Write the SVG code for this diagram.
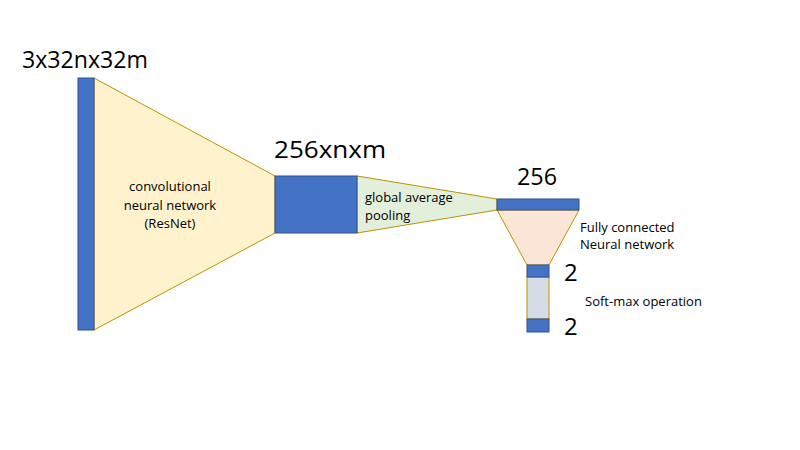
<svg xmlns="http://www.w3.org/2000/svg" width="800" height="450" viewBox="0 0 800 450">
<style>
.blk{fill:#4472C4;stroke:#2F528F;stroke-width:1}
.trap{stroke:#BF9000;stroke-width:1}
.big{font-family:"Open Sans","Liberation Sans",sans-serif;font-size:24px;fill:#000}
.lbl{font-family:"Open Sans","Liberation Sans",sans-serif;font-size:13px;fill:#000}
</style>
<rect width="800" height="450" fill="#fff"/>
<g id="cnn">
<polygon class="trap" fill="#FFF2CC" points="94,78 275,176 275,233 94,330"/>
<text class="lbl" x="170" y="191" text-anchor="middle">convolutional</text>
<text class="lbl" x="170" y="210" text-anchor="middle">neural network</text>
<text class="lbl" x="170" y="228" text-anchor="middle">(ResNet)</text>
</g>
<g id="input">
<rect class="blk" x="78" y="78" width="16" height="252"/>
<text class="big" x="22" y="68" textLength="126" lengthAdjust="spacingAndGlyphs">3x32nx32m</text>
</g>
<g id="gap">
<polygon class="trap" fill="#E2EFDA" points="357,176 497,199 497,210 357,233"/>
<text class="lbl" x="365" y="202">global average</text>
<text class="lbl" x="365" y="220">pooling</text>
</g>
<g id="feat">
<rect class="blk" x="275" y="176" width="82" height="57"/>
<text class="big" x="274" y="158" textLength="112" lengthAdjust="spacingAndGlyphs">256xnxm</text>
</g>
<g id="fc">
<polygon class="trap" fill="#FBE5D6" points="497,210 579,210 549,265 527,265"/>
<text class="lbl" x="580" y="232">Fully connected</text>
<text class="lbl" x="580" y="249">Neural network</text>
</g>
<g id="vec256">
<rect class="blk" x="497" y="199" width="82" height="11"/>
<text class="big" x="517" y="185" textLength="40" lengthAdjust="spacingAndGlyphs">256</text>
</g>
<g id="softmax">
<rect class="trap" fill="#D6DCE5" x="527" y="277" width="22" height="42"/>
<text class="lbl" x="585" y="306">Soft-max operation</text>
</g>
<g id="out2a">
<rect class="blk" x="527" y="265" width="22" height="12"/>
<text class="big" x="564" y="281">2</text>
</g>
<g id="out2b">
<rect class="blk" x="527" y="319" width="22" height="13"/>
<text class="big" x="564" y="335">2</text>
</g>
<g id="connectors"></g>
</svg>
